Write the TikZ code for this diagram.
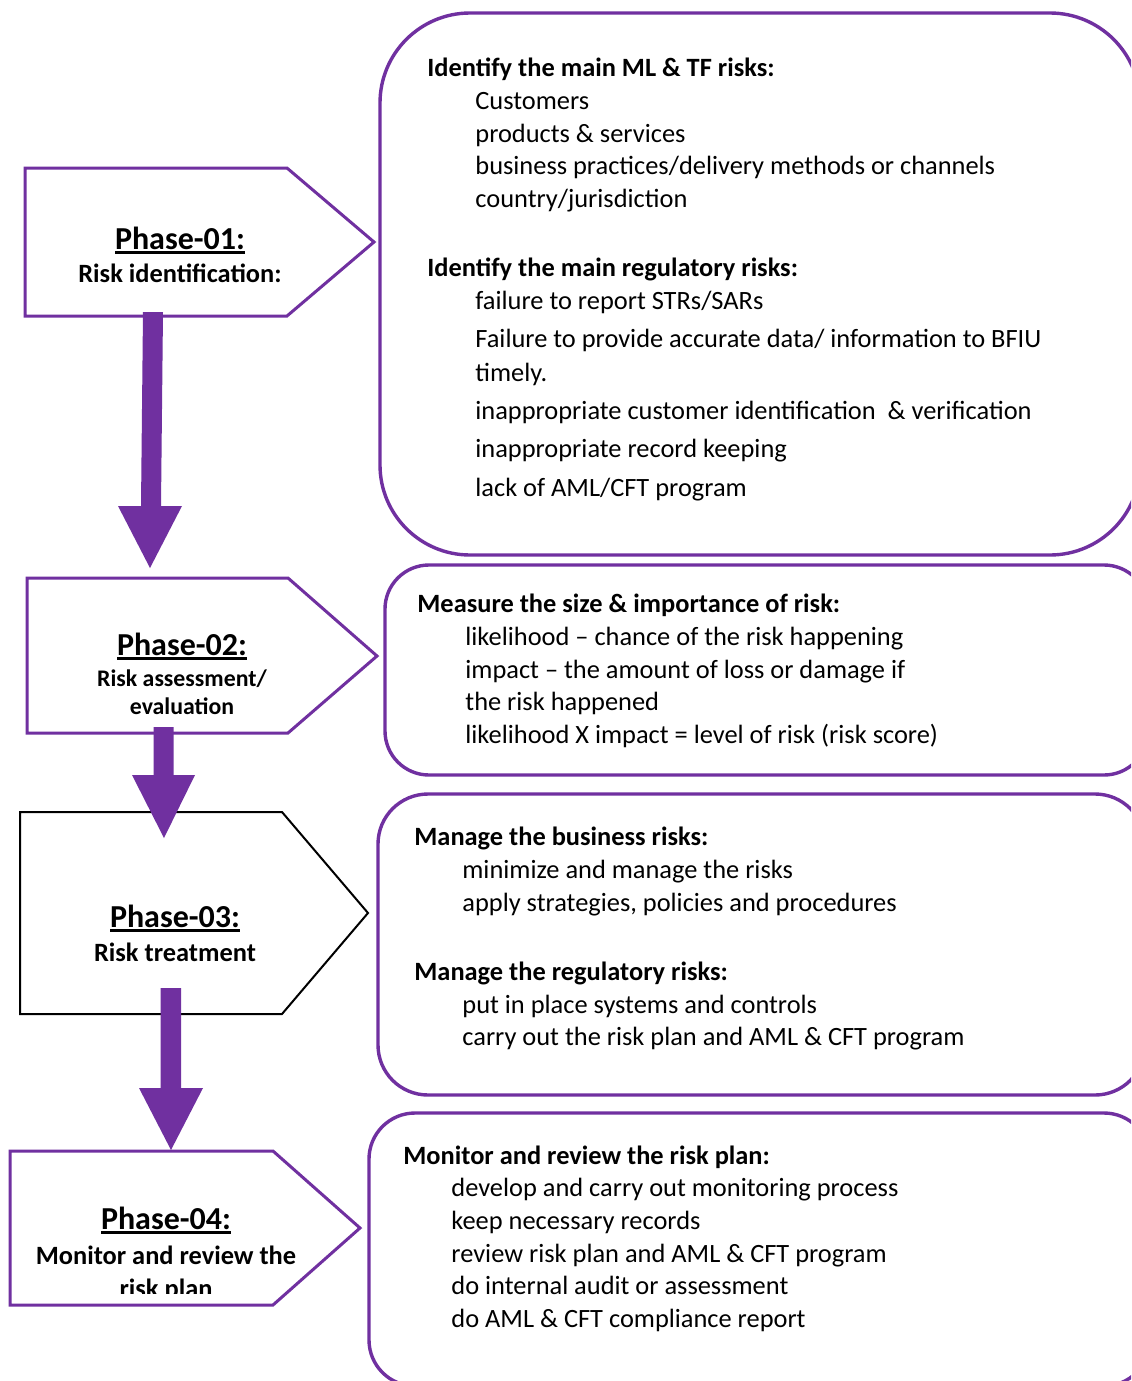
\documentclass[tikz,border=0pt]{standalone}
\usepackage{fontspec}
\setmainfont{Carlito}
\definecolor{phasepurple}{HTML}{7030A0}
% thick underline for the phase titles
\newcommand\phaseul[1]{\setbox0\hbox{#1}\rlap{\rule[-2.3pt]{\wd0}{1.5pt}}\box0}
\tikzset{
  bodytext/.style={anchor=base west, inner sep=0pt, font=\fontsize{13.2}{16}\selectfont},
  headtext/.style={anchor=base west, inner sep=0pt, font=\fontsize{13.2}{16}\selectfont\bfseries},
  ptitle/.style={anchor=base, inner sep=0pt, font=\fontsize{16}{19}\selectfont\bfseries},
  psub/.style={anchor=base, inner sep=0pt, font=\fontsize{13.2}{16}\selectfont\bfseries},
  psubsmall/.style={anchor=base, inner sep=0pt, font=\fontsize{11.9}{14}\selectfont\bfseries},
  infobox/.style={draw=phasepurple, line width=1.7pt, fill=white},
  phasebox/.style={draw=phasepurple, line width=1.5pt, fill=white, line join=miter},
  plainphase/.style={draw=black, line width=1pt, fill=white, line join=miter},
  flowarrow/.style={fill=phasepurple, draw=none},
}
\begin{document}
\begin{tikzpicture}[x=0.5pt, y=-0.5pt]
\useasboundingbox (0,0) rectangle (1131,1381);
\fill[white] (0,0) rectangle (1131,1381);
\clip (0,0) rectangle (1131,1381);

% ---- detail boxes on the right ----
\draw[infobox, rounded corners=45pt] (380,13) rectangle (1140,555);
\draw[infobox, rounded corners=22pt] (385,565) rectangle (1148,775);
\draw[infobox, rounded corners=25pt] (378,794) rectangle (1145,1095);
\draw[infobox, rounded corners=23pt] (369,1113) rectangle (1150,1386);

% ---- phase pentagons ----
\draw[phasebox] (25,168) -- (287,168) -- (374,242) -- (287,316) -- (25,316) -- cycle;
\draw[phasebox] (27,578) -- (288,578) -- (377,656) -- (288,733) -- (27,733) -- cycle;
\draw[plainphase] (20,812) -- (282,812) -- (368,913) -- (282,1014) -- (20,1014) -- cycle;
\draw[phasebox] (10,1151) -- (273,1151) -- (360,1228) -- (273,1305) -- (10,1305) -- cycle;

% ---- phase labels ----
\node[ptitle] (p1t) at (180,249) {\phaseul{Phase-01:}};
\node[psub]   (p1s) at (180,282) {Risk identification:};

\node[ptitle]    (p2t) at (182,655) {\phaseul{Phase-02:}};
\node[psubsmall] (p2s) at (182,686) {Risk assessment/};
\node[psubsmall] (p2u) at (182,714) {evaluation};

\node[ptitle] (p3t) at (175,927) {\phaseul{Phase-03:}};
\node[psub]   (p3s) at (175,961) {Risk treatment};

\node[ptitle] (p4t) at (166,1229) {\phaseul{Phase-04:}};
\node[psub]   (p4s) at (166,1264) {Monitor and review the};
\begin{scope}
  \clip (12,1153) rectangle (340,1293);
  \node[psub] (p4u) at (166,1297) {risk plan};
\end{scope}

% ---- block arrows between phases ----
\fill[flowarrow] (143,312) -- (163,312) -- (161,506) -- (182,506) -- (150,568)
  -- (118,506) -- (141,506) -- cycle;
\fill[flowarrow] (153.5,727) -- (173.5,727) -- (173.5,775) -- (195,775) -- (164,838)
  -- (132,775) -- (153.5,775) -- cycle;
\fill[flowarrow] (160.5,988) -- (181,988) -- (181,1088) -- (203,1088) -- (171,1150)
  -- (139,1088) -- (160.5,1088) -- cycle;

% ---- box 1: identification ----
\node[headtext] (a0) at (427,76)  {Identify the main ML \& TF risks:};
\node[bodytext] (a1) at (475,109) {Customers};
\node[bodytext] (a2) at (475,142) {products \& services};
\node[bodytext] (a3) at (475,174) {business practices/delivery methods or channels};
\node[bodytext] (a4) at (475,207) {country/jurisdiction};
\node[headtext] (b0) at (427,276) {Identify the main regulatory risks:};
\node[bodytext] (b1) at (475,309) {failure to report STRs/SARs};
\node[bodytext] (b2) at (475,347) {Failure to provide accurate data/ information to BFIU};
\node[bodytext] (b3) at (475,381) {timely.};
\node[bodytext] (b4) at (475,419) {inappropriate customer identification~ \& verification};
\node[bodytext] (b5) at (475,457) {inappropriate record keeping};
\node[bodytext] (b6) at (475,496) {lack of AML/CFT program};

% ---- box 2: assessment ----
\node[headtext] (c0) at (417,612) {Measure the size \& importance of risk:};
\node[bodytext] (c1) at (465,645) {likelihood – chance of the risk happening};
\node[bodytext] (c2) at (465,678) {impact – the amount of loss or damage if};
\node[bodytext] (c3) at (465,710) {the risk happened};
\node[bodytext] (c4) at (465,743) {likelihood X impact = level of risk (risk score)};

% ---- box 3: treatment ----
\node[headtext] (d0) at (414,845)  {Manage the business risks:};
\node[bodytext] (d1) at (462,878)  {minimize and manage the risks};
\node[bodytext] (d2) at (462,911)  {apply strategies, policies and procedures};
\node[headtext] (e0) at (414,980)  {Manage the regulatory risks:};
\node[bodytext] (e1) at (462,1013) {put in place systems and controls};
\node[bodytext] (e2) at (462,1045) {carry out the risk plan and AML \& CFT program};

% ---- box 4: monitoring ----
\node[headtext] (f0) at (403,1164) {Monitor and review the risk plan:};
\node[bodytext] (f1) at (451,1196) {develop and carry out monitoring process};
\node[bodytext] (f2) at (451,1229) {keep necessary records};
\node[bodytext] (f3) at (451,1262) {review risk plan and AML \& CFT program};
\node[bodytext] (f4) at (451,1294) {do internal audit or assessment};
\node[bodytext] (f5) at (451,1327) {do AML \& CFT compliance report};
\end{tikzpicture}
\end{document}
